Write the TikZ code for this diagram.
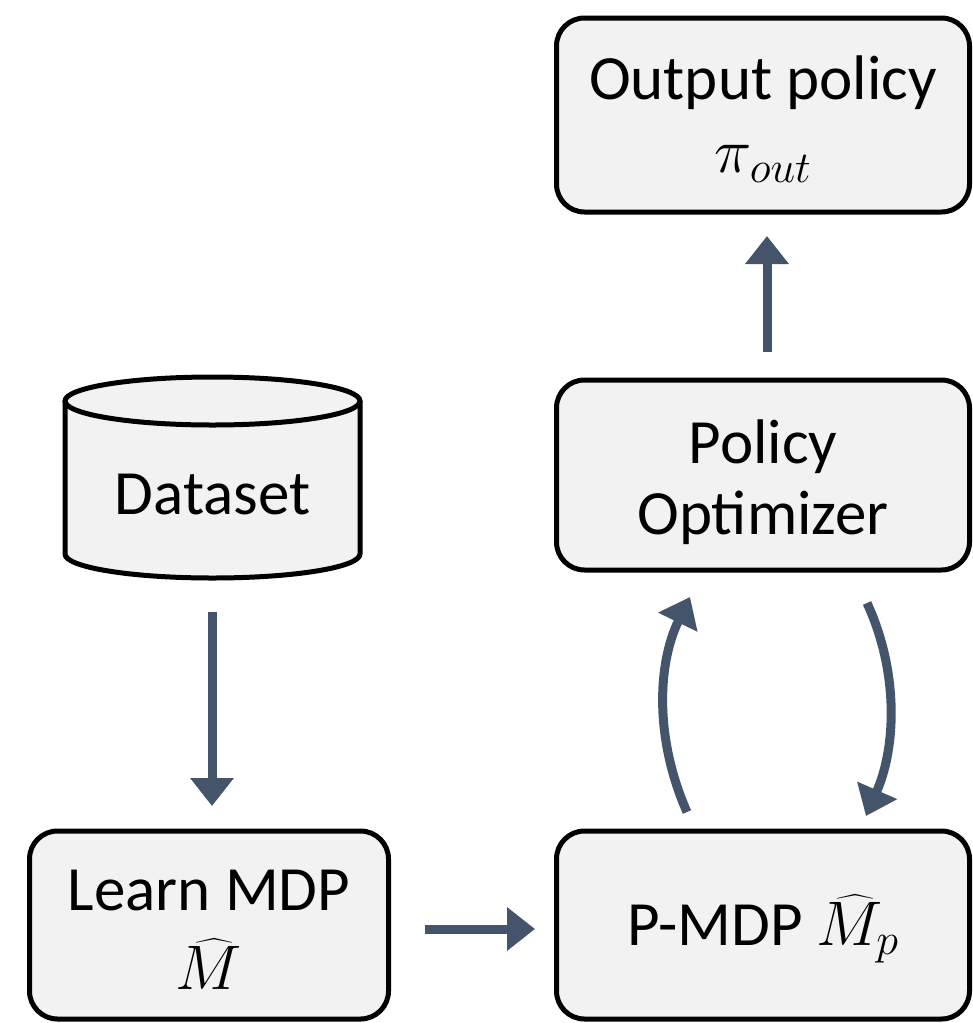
\documentclass[tikz,border=0pt]{standalone}
\usepackage{fix-cm}
\usepackage{amsmath}
\usepackage{fontspec}
\setmainfont{Carlito}
\usetikzlibrary{arrows.meta}
\definecolor{boxfill}{HTML}{F2F2F2}
\definecolor{flow}{HTML}{44546A}
\begin{document}
\begin{tikzpicture}[x=1pt,y=-1pt,
  stage/.style={draw=black, line width=5pt, fill=boxfill, rounded corners=28pt,
    inner sep=0pt},
  stagetext/.style={align=center, inner sep=0pt,
    font=\fontsize{63}{75}\selectfont},
  flowarrow/.style={draw=flow, line width=9pt,
    -{Triangle[length=28pt,width=42pt]}},
]
\useasboundingbox (0,0) rectangle (973,1023);

% processing stages
\node[stage, minimum width=413pt, minimum height=194pt] (out) at (763,115) {};
\node[stagetext] (outText) at (763,119) {Output policy\\[-2pt]$\pi_{out}$};
\node[stage, minimum width=413pt, minimum height=190pt] (opt) at (763,475) {};
\node[stagetext] (optText) at (763,482) {Policy\\[-4pt]Optimizer};
\node[stage, minimum width=413pt, minimum height=188pt] (pmdp) at (763,925) {};
\node[stagetext] (pmdpText) at (763,929) {P-MDP $\widehat{M}_p$};
\node[stage, minimum width=359pt, minimum height=188pt] (learn) at (209,925) {};
\node[stagetext] (learnText) at (209,930) {Learn MDP\\[4pt]$\widehat{M}$};

% dataset cylinder
\fill[boxfill] (65,401) -- (65,554) arc[start angle=180,end angle=360,x radius=147.5pt,y radius=24pt]
  -- (360,401) arc[start angle=0,end angle=180,x radius=147.5pt,y radius=24pt] -- cycle;
\draw[line width=5pt] (65,401) -- (65,554) arc[start angle=180,end angle=360,x radius=147.5pt,y radius=24pt]
  -- (360,401);
\draw[line width=5pt] (212.5,401) ellipse[x radius=147.5pt,y radius=24pt];
\node[stagetext, minimum width=295pt, minimum height=201pt] (data) at (212.5,495) {Dataset};

% connector ends
\coordinate (dataEnd) at (212,612);
\coordinate (learnTop) at (212,806);
\coordinate (learnOut) at (425,929);
\coordinate (pmdpIn) at (535,929);
\coordinate (optTop) at (767,352);
\coordinate (outBottom) at (767,236);
\coordinate (upStart) at (687,812);
\coordinate (upEnd) at (690,597);
\coordinate (downStart) at (867,603);
\coordinate (downEnd) at (866,816);

% flow arrows
\draw[flowarrow] (dataEnd) -- (learnTop);
\draw[flowarrow] (learnOut) -- (pmdpIn);
\draw[flowarrow] (optTop) -- (outBottom);
\draw[flowarrow] (upStart) .. controls (655,740) and (657,665) .. (upEnd);
\draw[flowarrow] (downStart) .. controls (898,670) and (897,745) .. (downEnd);
\end{tikzpicture}
\end{document}
